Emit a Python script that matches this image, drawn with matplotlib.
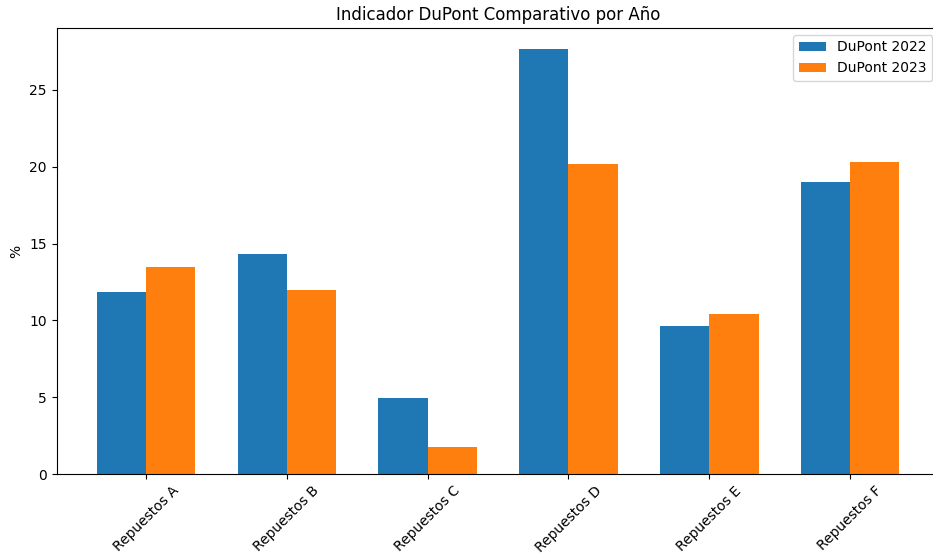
import matplotlib
matplotlib.use("Agg")
import matplotlib.pyplot as plt
import numpy as np

categories = ["Repuestos A", "Repuestos B", "Repuestos C", "Repuestos D", "Repuestos E", "Repuestos F"]
dupont_2022 = [11.84, 14.31, 4.94, 27.65, 9.63, 19.0]
dupont_2023 = [13.47, 11.97, 1.76, 20.17, 10.41, 20.3]

fig = plt.figure(figsize=(9.33, 5.54), dpi=100)
ax = fig.add_axes([0.0607, 0.1444, 0.9462, 0.8051])

x = np.arange(len(categories))
w = 0.35
ax.bar(x - w / 2, dupont_2022, w, label="DuPont 2022", color="#1f77b4")
ax.bar(x + w / 2, dupont_2023, w, label="DuPont 2023", color="#ff7f0e")

ax.set_xticks(x)
ax.set_xticklabels(categories, rotation=45)
ax.set_ylabel("%")
ax.set_title("Indicador DuPont Comparativo por Año")
ax.legend(loc="upper right")

fig.savefig("out.png", dpi=100)
